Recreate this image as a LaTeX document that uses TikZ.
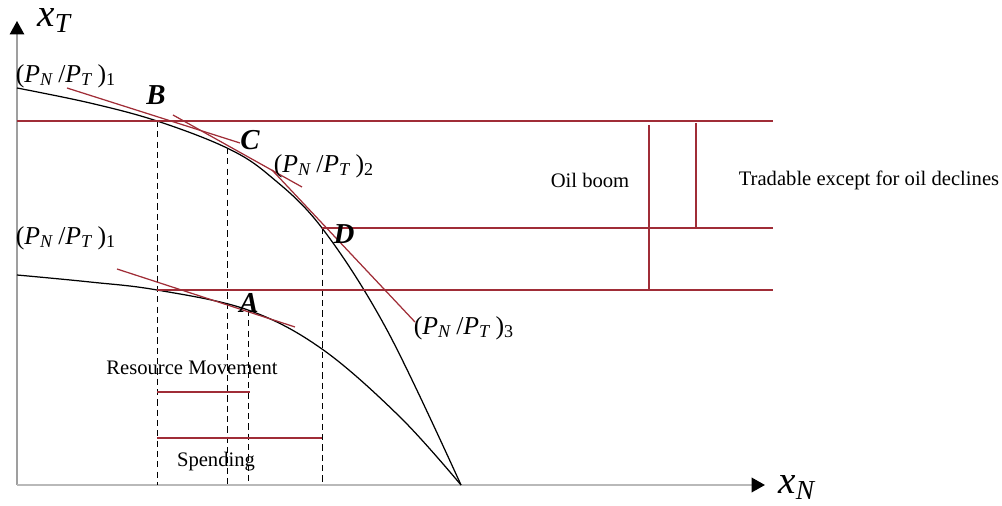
\documentclass[tikz,border=0pt]{standalone}
\usepackage{fontspec}
\setmainfont{Liberation Serif}
\usetikzlibrary{arrows.meta}
\definecolor{oilred}{RGB}{160,45,55}
\tikzset{
  redline/.style={oilred, line width=0.6pt},
  guide/.style={densely dashed, line width=0.4pt},
  ppf/.style={line width=0.6pt},
  axistip/.style={-{Triangle[length=6.5pt,width=7pt,color=black]}},
  ratio/.style={font=\fontsize{12.5}{14}\selectfont},
  ptlbl/.style={font=\fontsize{14}{16}\selectfont\bfseries\itshape},
  axlbl/.style={font=\fontsize{19}{22}\selectfont\itshape, inner sep=0pt, anchor=base west},
  txt/.style={font=\fontsize{10}{12}\selectfont}
}
\newcommand{\pratio}[1]{(\textit{P}\textsubscript{\textit{N}}\,/\textit{P}\textsubscript{\textit{T}}\,)\textsubscript{#1}}
\begin{document}
\begin{tikzpicture}[x=0.485pt,y=-0.485pt]
  \useasboundingbox (0,0) rectangle (1002,506);
  % axes
  \coordinate (O) at (17,485);
  \coordinate (ytop) at (17,21);
  \coordinate (xend) at (765,485);
  \draw[gray!75, line width=0.7pt, axistip] (O) -- (ytop);
  \draw[gray!55, line width=1.1pt, axistip] (O) -- (xend);
  \node[axlbl] (xT) at (37,27) {x\textsubscript{T}};
  \node[axlbl] (xN) at (778,494) {x\textsubscript{N}};

  % points
  \coordinate (B) at (157,121);
  \coordinate (C) at (227,148);
  \coordinate (D) at (322,228);
  \coordinate (A) at (248,310);
  \coordinate (E) at (157,290);
  \coordinate (Q) at (461,485);

  % production possibility curves
  \draw[ppf] plot[smooth,tension=0.6] coordinates {(17,88) (90,103) (B) (C) (270,176) (D) (387,330) (Q)};
  \draw[ppf] plot[smooth,tension=0.6] coordinates {(17,275) (90,282) (E) (A) (322,349) (400,417) (Q)};

  % dashed guides
  \draw[guide] (B) -- (B |- O);
  \draw[guide] (C) -- (C |- O);
  \draw[guide] (A) -- (A |- O);
  \draw[guide] (D) -- (D |- O);

  % levels
  \draw[redline] (17,121) -- (773,121);
  \draw[redline] (D) -- (773,228);
  \draw[redline] (E) -- (773,290);
  \draw[redline] (649,125) -- (649,290);
  \draw[redline] (696,123) -- (696,228);

  % price lines
  \draw[redline] (67,88) -- (240,143);
  \draw[redline] (173,115) -- (302,187);
  \draw[redline] (272,170) -- (415,322);
  \draw[redline] (117,269) -- (295,327);

  % movements
  \draw[redline] (E |- 0,392) -- (250,392);
  \draw[redline] (E |- 0,438) -- (D |- 0,438);

  \node[ratio] (r1) at (66,76) {\pratio{1}};
  \node[ratio] (r1b) at (66,238) {\pratio{1}};
  \node[ratio] (r2) at (324,166) {\pratio{2}};
  \node[ratio] (r3) at (464,328) {\pratio{3}};

  \node[ptlbl] (lB) at (156,95) {B};
  \node[ptlbl] (lC) at (250,140) {C};
  \node[ptlbl] (lD) at (344,234) {D};
  \node[ptlbl] (lA) at (249,303) {A};

  \node[txt] (boom) at (590,180) {Oil boom};
  \node[txt] (trad) at (869,180) {Tradable except for oil declines};
  \node[txt] (res) at (192,368) {Resource Movement};
  \node[txt] (spend) at (216,462) {Spending};
\end{tikzpicture}
\end{document}
